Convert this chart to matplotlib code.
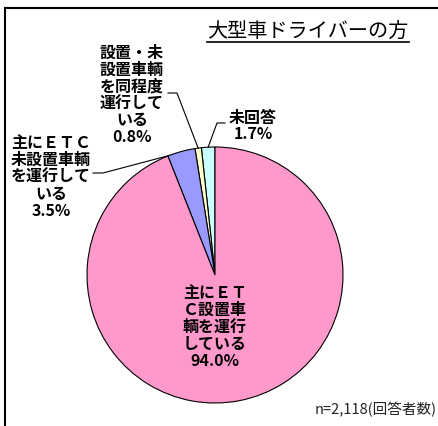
import numpy as np
import matplotlib.pyplot as plt
from matplotlib.lines import Line2D
from matplotlib.patches import Rectangle
from matplotlib.transforms import IdentityTransform

plt.rcParams['font.family'] = ['Noto Sans CJK JP', 'DejaVu Sans']

# data (counter-clockwise from 12 o'clock)
names = ['未回答',
         '設置・未\n設置車輌\nを同程度\n運行して\nいる',
         '主にＥＴＣ\n未設置車輌\nを運行して\nいる',
         '主にＥＴ\nＣ設置車\n輌を運行\nしている']
values = [1.7, 0.8, 3.5, 94.0]
colors = ['#CCFFFF', '#FFFFCC', '#9999FF', '#FF99CC']
title = '大型車ドライバーの方'
note = 'n=2,118(回答者数)'

W, H = 439, 426
fig = plt.figure(figsize=(W / 100, H / 100), dpi=100)

def px(x, y):
    # image pixel (top-left origin) -> figure fraction
    return x / W, 1 - y / H

# outer frame (right / bottom edges are cut off in the original)
fig.add_artist(Rectangle((5 / W, -0.1), 1.2, 1.1 - 8 / H, transform=fig.transFigure,
                         fill=False, lw=1.5, ec='black'))

ax = fig.add_axes([87 / W, 23 / H, 256 / W, 256 / H])
wedges, _ = ax.pie(values, colors=colors, startangle=90, counterclock=True,
                   wedgeprops=dict(edgecolor='black', linewidth=0.8))
ax.set_xlim(-1, 1)
ax.set_ylim(-1, 1)

labels = [f'{n}\n{v:.1f}%' for n, v in zip(names, values)]

# label block centres (pixels), leader anchor + corner (pixels), angle fraction in wedge
label_pos = [(253, 126), (132, 95), (51, 177), (215, 327)]
leaders = [((225, 123), (217, 123), 0.5),
           ((168, 93), (177, 93), 0.5),
           ((93, 173), (103, 173), 0.95),
           None]

for w, lab, pos, ld in zip(wedges, labels, label_pos, leaders):
    fig.text(*px(*pos), lab, ha='center', va='center', fontsize=11.5,
             fontweight='bold', linespacing=1.07, multialignment='center')
    if ld is None:
        continue
    a = np.deg2rad(w.theta1 + (w.theta2 - w.theta1) * ld[2])
    ex, ey = ax.transData.transform((np.cos(a), np.sin(a)))
    (x0, y0), (x1, y1) = ld[0], ld[1]
    fig.add_artist(Line2D([x0, x1, ex], [H - y0, H - y1, ey], transform=IdentityTransform(),
                          color='black', lw=0.8))

t = fig.text(*px(308, 32), title, ha='center', va='center', fontsize=14.5)
fig.text(*px(437, 410), note, ha='right', va='center', fontsize=10.5, color='#222222')

fig.canvas.draw()
bb = t.get_window_extent()
fig.add_artist(Line2D([bb.x0, bb.x1], [H - 42, H - 42], transform=IdentityTransform(),
                      color='black', lw=1.2))

fig.savefig('out.png', dpi=100)
